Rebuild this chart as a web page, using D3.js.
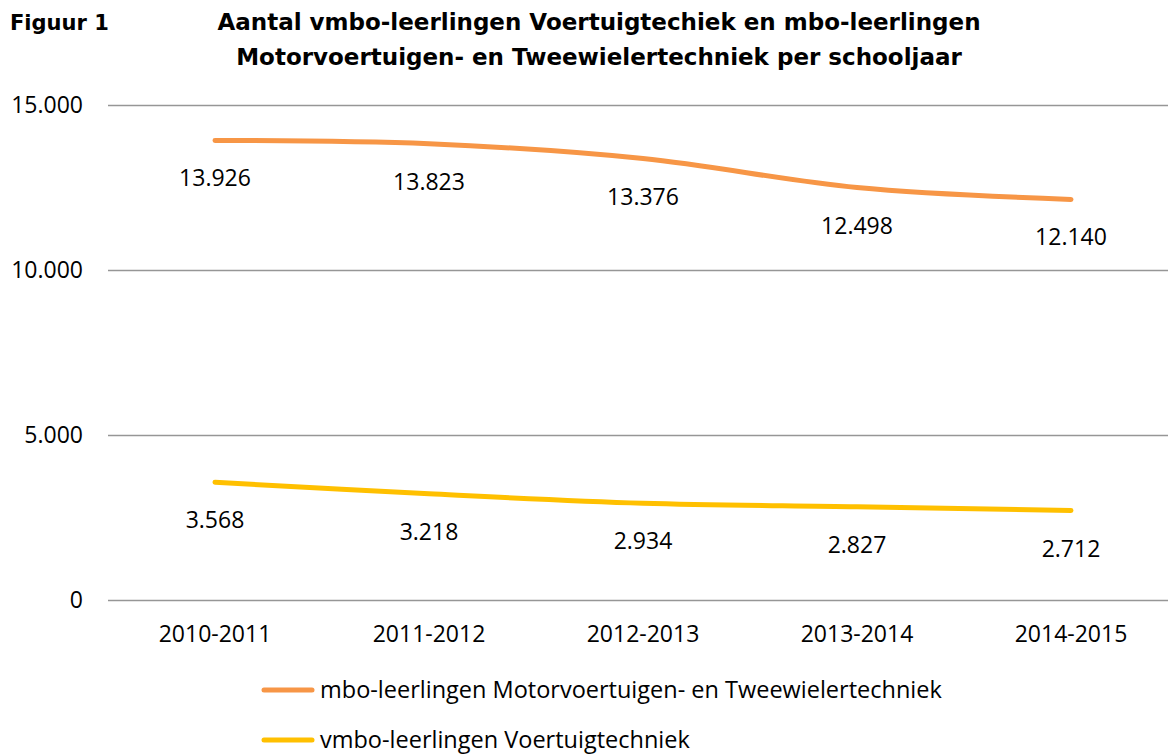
<!DOCTYPE html>
<html>
<head>
<meta charset="utf-8">
<script src="https://cdn.jsdelivr.net/npm/d3@7"></script>
<style>
  body { margin: 0; background: #fff; }
  text { font-family: "Open Sans", Lato, sans-serif; fill: #000; }
  .titel { font-family: "DejaVu Sans", sans-serif; font-weight: bold; font-size: 23px; }
</style>
</head>
<body>
<div id="chart"></div>
<script>
// schooljaren en aantallen leerlingen
const schooljaren = ["2010-2011", "2011-2012", "2012-2013", "2013-2014", "2014-2015"];
const mboWaarden = [13926, 13823, 13376, 12498, 12140];
const vmboWaarden = [3568, 3218, 2934, 2827, 2712];
const yTicks = [0, 5000, 10000, 15000];
const reeksNamen = ["mbo-leerlingen Motorvoertuigen- en Tweewielertechniek", "vmbo-leerlingen Voertuigtechniek"];

const width = 1168, height = 756;
const margin = {top: 105, right: -10, bottom: 156, left: 108};
const fontSize = "23px";

const svg = d3.select("#chart").append("svg")
    .attr("width", width)
    .attr("height", height);

// titel
svg.append("text")
    .attr("class", "titel")
    .style("font-size", "21px")
    .attr("x", 10).attr("y", 30)
    .text("Figuur 1");
const titel = svg.append("text")
    .attr("class", "titel")
    .attr("text-anchor", "middle");
titel.append("tspan").attr("x", 599).attr("y", 30)
    .text("Aantal vmbo-leerlingen Voertuigtechiek en mbo-leerlingen");
titel.append("tspan").attr("x", 599).attr("y", 65)
    .text("Motorvoertuigen- en Tweewielertechniek per schooljaar");

// schalen
const x = d3.scaleBand()
    .domain(schooljaren)
    .range([margin.left, width - margin.right]);
const y = d3.scaleLinear()
    .domain([0, 15000])
    .range([height - margin.bottom, margin.top]);

const fmt = v => d3.format(",")(v).replace(/,/g, ".");

// rasterlijnen
const yAxis = svg.append("g")
    .attr("transform", `translate(${margin.left},0)`)
    .call(d3.axisLeft(y).tickValues(yTicks).tickSize(-(width - margin.left)).tickFormat(fmt).tickPadding(25));
yAxis.select(".domain").remove();
yAxis.selectAll(".tick line").attr("stroke", "#969696").attr("stroke-width", 1.5);
yAxis.selectAll(".tick text").style("font-size", fontSize);

// x-as labels
const xAxis = svg.append("g")
    .attr("transform", `translate(0,${height - margin.bottom})`)
    .call(d3.axisBottom(x).tickSize(0).tickPadding(26));
xAxis.select(".domain").remove();
xAxis.selectAll(".tick text").style("font-size", fontSize);

const line = d3.line()
    .x((d, i) => x(schooljaren[i]) + x.bandwidth() / 2)
    .y(d => y(d))
    .curve(d3.curveCatmullRom.alpha(0.5));

const reeksen = [
  {naam: reeksNamen[0], waarden: mboWaarden, kleur: "#F79646"},
  {naam: reeksNamen[1], waarden: vmboWaarden, kleur: "#FFC000"}
];

reeksen.forEach(r => {
  svg.append("path")
      .datum(r.waarden)
      .attr("fill", "none")
      .attr("stroke", r.kleur)
      .attr("stroke-width", 5)
      .attr("stroke-linecap", "round")
      .attr("d", line);

  svg.selectAll(null)
      .data(r.waarden)
      .enter().append("text")
      .attr("x", (d, i) => x(schooljaren[i]) + x.bandwidth() / 2)
      .attr("y", d => y(d) + 46)
      .attr("text-anchor", "middle")
      .style("font-size", fontSize)
      .text(fmt);
});

// legenda
const legend = svg.append("g");
reeksen.forEach((r, i) => {
  const ly = 690 + i * 50;
  legend.append("line")
      .attr("x1", 264).attr("x2", 312)
      .attr("y1", ly).attr("y2", ly)
      .attr("stroke", r.kleur).attr("stroke-width", 5)
      .attr("stroke-linecap", "round");
  legend.append("text")
      .attr("x", 320).attr("y", ly + 8)
      .style("font-size", "23.5px")
      .text(r.naam);
});
</script>
</body>
</html>
